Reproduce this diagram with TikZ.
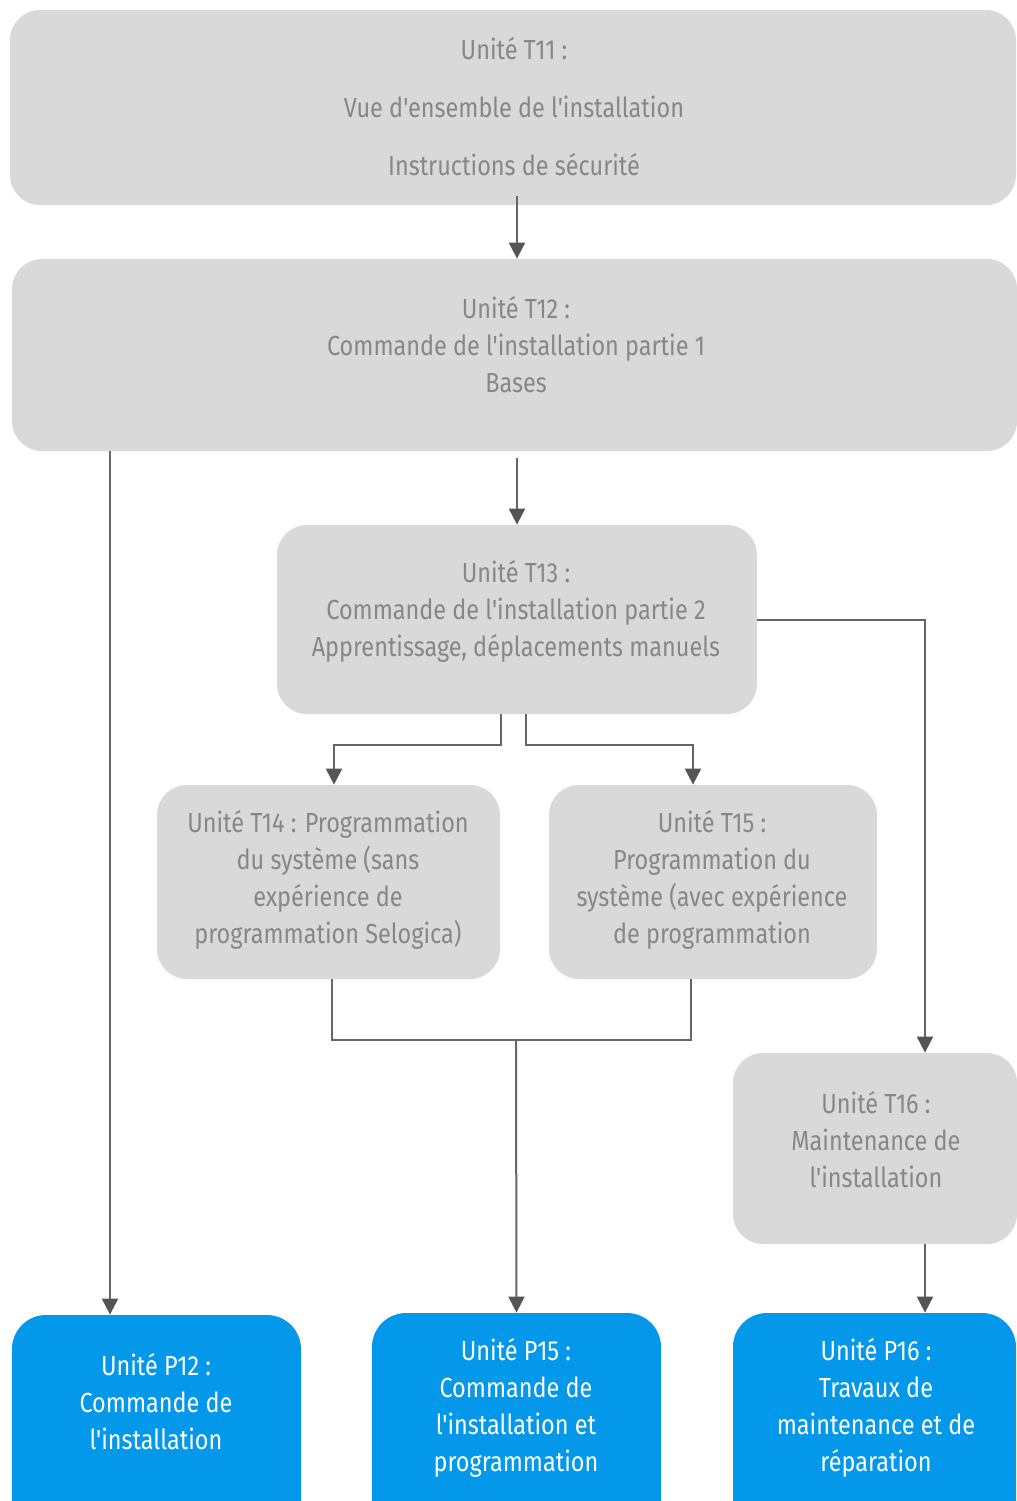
\documentclass[tikz,border=0pt]{standalone}
\usepackage{fontspec}
\setmainfont[FakeStretch=0.85,Ligatures=TeXOff]{Fira Sans}
\usetikzlibrary{arrows.meta}
\definecolor{boxgray}{HTML}{D9D9D9}
\definecolor{txtgray}{HTML}{878787}
\definecolor{linegray}{HTML}{666666}
\definecolor{headgray}{HTML}{555555}
\definecolor{pblue}{HTML}{0398EA}
\tikzset{
  gbox/.style={draw=none, fill=boxgray, rounded corners=15pt, inner sep=0pt},
  bbox/.style={draw=none, fill=pblue, rounded corners=17pt, inner sep=0pt},
  gtxt/.style={text=txtgray, align=center, inner sep=0pt, font=\fontsize{13.8}{18.5}\selectfont},
  btxt/.style={text=white, align=center, inner sep=0pt, font=\fontsize{13.8}{18.5}\selectfont},
  conn/.style={draw=linegray, line width=1pt},
  arr/.style={conn, -{Triangle[width=8pt,length=8pt,fill=headgray,color=headgray]}}
}
\begin{document}
\begin{tikzpicture}[x=0.5pt,y=-0.5pt]
\useasboundingbox (0,0) rectangle (1017,1501);
\clip (0,0) rectangle (1017,1501);
% boxes
\node[gbox, minimum width=503pt, minimum height=97.5pt] (t11) at (513,107.5) {};
\node[gbox, minimum width=502.5pt, minimum height=96pt] (t12) at (514.5,355) {};
\node[gbox, minimum width=240pt, minimum height=94.5pt] (t13) at (517,619.5) {};
\node[gbox, minimum width=171.5pt, minimum height=97pt] (t14) at (328.5,882) {};
\node[gbox, minimum width=164pt, minimum height=97pt] (t15) at (713,882) {};
\node[gbox, minimum width=142pt, minimum height=95.5pt] (t16) at (875,1148.5) {};
\node[bbox, minimum width=144.5pt, minimum height=110pt] (p12) at (156.5,1425) {};
\node[bbox, minimum width=144.5pt, minimum height=111pt] (p15) at (516.5,1424) {};
\node[bbox, minimum width=141.5pt, minimum height=111pt] (p16) at (874.5,1424) {};
% texts
\node[gtxt, font=\fontsize{13.8}{29}\selectfont] (t11t) at (514,107) {Unité T11 :\\Vue d'ensemble de l'installation\\Instructions de sécurité};
\node[gtxt] (t12t) at (516,345) {Unité T12 :\\Commande de l'installation partie 1\\Bases};
\node[gtxt] (t13t) at (516,611) {Unité T13 :\\Commande de l'installation partie 2\\Apprentissage, déplacements manuels};
\node[gtxt] (t14t) at (328,880) {Unité T14 : Programmation\\du système (sans\\expérience de\\programmation Selogica)};
\node[gtxt] (t15t) at (712,880) {Unité T15 :\\Programmation du\\système (avec expérience\\de programmation};
\node[gtxt] (t16t) at (876,1140) {Unité T16 :\\Maintenance de\\l'installation};
\node[btxt] (p12t) at (156,1402) {Unité P12 :\\Commande de\\l'installation};
\node[btxt] (p15t) at (516,1408) {Unité P15 :\\Commande de\\l'installation et\\programmation};
\node[btxt] (p16t) at (876,1408) {Unité P16 :\\Travaux de\\maintenance et de\\réparation};
% connectors
\draw[arr] (517,196) -- (517,0 |- t12.north);
\draw[arr] (517,458) -- (517,0 |- t13.north);
\draw[arr] (110,0 |- t12.south) -- (110,0 |- p12.north);
\draw[arr] (501,0 |- t13.south) -- (501,745) -| (334,0 |- t14.north);
\draw[arr] (526,0 |- t13.south) -- (526,745) -| (693,0 |- t15.north);
\draw[arr] (t13.east) -| (925,0 |- t16.north);
\draw[conn] (332,0 |- t14.south) -- (332,1040) -- (691,1040) -- (691,0 |- t15.south);
\draw[arr] (516,1040) -- (p15.north);
\draw[arr] (925,0 |- t16.south) -- (925,0 |- p16.north);
\end{tikzpicture}
\end{document}
